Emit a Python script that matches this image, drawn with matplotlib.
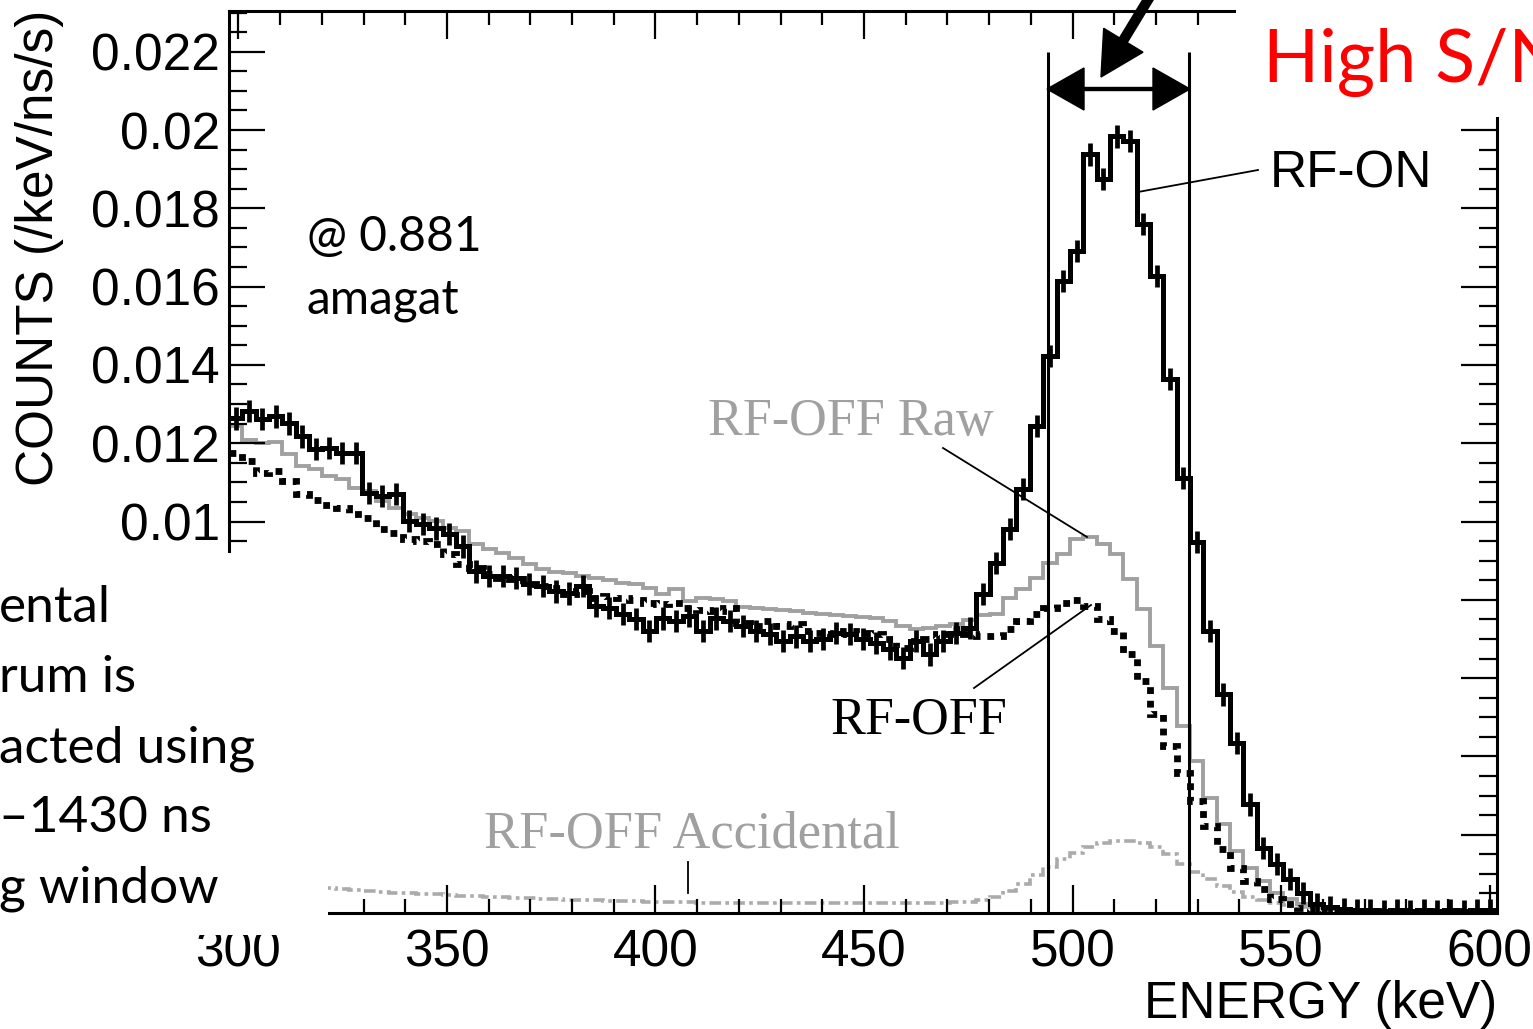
#!/usr/bin/env python3

# Positron annihilation spectrum, RF-ON vs RF-OFF (ROOT style plot)

import matplotlib as mpl
mpl.use("Agg")

import matplotlib.pyplot as plt               # noqa
import matplotlib.transforms as mtransforms   # noqa
from matplotlib.patches import Rectangle, FancyArrow   # noqa
from matplotlib.lines import Line2D           # noqa
from matplotlib.ticker import MultipleLocator, FuncFormatter   # noqa
import numpy as nmp                           # noqa

# binning of the spectra [keV]
E_LOW = 297.75
BIN_W = 3.2
N_BINS = 95

# counts [/keV/ns/s], one value per bin
RF_ON = [0.01264, 0.01282, 0.01262, 0.01269, 0.01251, 0.01218, 0.01185, 0.01188, 0.01175, 0.01175,
         0.01073, 0.01065, 0.01070, 0.01001, 0.00994, 0.00983, 0.00968, 0.00937, 0.00873, 0.00861,
         0.00861, 0.00856, 0.00840, 0.00835, 0.00822, 0.00817, 0.00835, 0.00784, 0.00779, 0.00764,
         0.00751, 0.00720, 0.00753, 0.00746, 0.00759, 0.00720, 0.00753, 0.00746, 0.00733, 0.00720,
         0.00713, 0.00695, 0.00707, 0.00695, 0.00700, 0.00715, 0.00713, 0.00700, 0.00690, 0.00674,
         0.00651, 0.00695, 0.00661, 0.00695, 0.00715, 0.00728, 0.00815, 0.00894, 0.00981, 0.01083,
         0.01244, 0.01423, 0.01614, 0.01691, 0.01938, 0.01875, 0.01984, 0.01972, 0.01760, 0.01627,
         0.01364, 0.01111, 0.00948, 0.00720, 0.00559, 0.00434, 0.00278, 0.00166, 0.00125, 0.00087,
         0.00051, 0.00023, 0.00015, 0.00010, 0.00008, 0.00008, 0.00005, 0.00008, 0.00005, 0.00008,
         0.00005, 0.00008, 0.00005, 0.00008, 0.00008]
ERR_ON = 0.00029

RF_OFF_RAW = [0.01244, 0.01208, 0.01200, 0.01203, 0.01172, 0.01142, 0.01134, 0.01116, 0.01108, 0.01085,
              0.01078, 0.01052, 0.01034, 0.01019, 0.01009, 0.01001, 0.00983, 0.00976, 0.00942, 0.00930,
              0.00919, 0.00907, 0.00891, 0.00879, 0.00871, 0.00868, 0.00861, 0.00856, 0.00850, 0.00843,
              0.00840, 0.00830, 0.00815, 0.00827, 0.00797, 0.00805, 0.00802, 0.00797, 0.00782, 0.00779,
              0.00776, 0.00774, 0.00771, 0.00766, 0.00764, 0.00761, 0.00759, 0.00756, 0.00753, 0.00746,
              0.00733, 0.00725, 0.00728, 0.00733, 0.00738, 0.00748, 0.00761, 0.00764, 0.00805, 0.00827,
              0.00856, 0.00894, 0.00917, 0.00955, 0.00960, 0.00942, 0.00917, 0.00853, 0.00776, 0.00682,
              0.00575, 0.00478, 0.00388, 0.00294, 0.00227, 0.00158, 0.00115, 0.00082, 0.00051, 0.00036,
              0.00023, 0.00015, 0.00010, 0.00008, 0.00005, 0.00005, 0.00005, 0.00005, 0.00005, 0.00005,
              0.00005, 0.00005, 0.00005, 0.00005, 0.00005]

RF_OFF = [0.01175, 0.01154, 0.01124, 0.01129, 0.01103, 0.01070, 0.01055, 0.01042, 0.01034, 0.01019,
          0.01009, 0.00981, 0.00971, 0.00955, 0.00950, 0.00942, 0.00917, 0.00891, 0.00881, 0.00866,
          0.00856, 0.00853, 0.00840, 0.00835, 0.00830, 0.00815, 0.00822, 0.00805, 0.00810, 0.00805,
          0.00799, 0.00792, 0.00789, 0.00792, 0.00779, 0.00774, 0.00771, 0.00779, 0.00741, 0.00733,
          0.00746, 0.00733, 0.00738, 0.00720, 0.00715, 0.00713, 0.00720, 0.00715, 0.00713, 0.00700,
          0.00677, 0.00695, 0.00700, 0.00713, 0.00725, 0.00713, 0.00707, 0.00707, 0.00725, 0.00746,
          0.00764, 0.00779, 0.00792, 0.00799, 0.00784, 0.00751, 0.00720, 0.00661, 0.00593, 0.00508,
          0.00427, 0.00358, 0.00286, 0.00222, 0.00163, 0.00115, 0.00082, 0.00061, 0.00036, 0.00023,
          0.00013, 0.00008, 0.00005, 0.00005, 0.00005, 0.00005, 0.00005, 0.00005, 0.00005, 0.00005,
          0.00005, 0.00005, 0.00005, 0.00005, 0.00005]

RF_OFF_ACC = [0.00077, 0.00074, 0.00072, 0.00069, 0.00069, 0.00066, 0.00066, 0.00064, 0.00061, 0.00059,
              0.00056, 0.00054, 0.00051, 0.00051, 0.00049, 0.00049, 0.00046, 0.00043, 0.00043, 0.00041,
              0.00041, 0.00038, 0.00038, 0.00036, 0.00036, 0.00033, 0.00033, 0.00033, 0.00031, 0.00031,
              0.00031, 0.00028, 0.00028, 0.00028, 0.00028, 0.00026, 0.00026, 0.00026, 0.00026, 0.00026,
              0.00026, 0.00026, 0.00026, 0.00026, 0.00026, 0.00026, 0.00026, 0.00026, 0.00026, 0.00026,
              0.00026, 0.00026, 0.00026, 0.00026, 0.00028, 0.00028, 0.00033, 0.00041, 0.00056, 0.00074,
              0.00097, 0.00117, 0.00138, 0.00153, 0.00169, 0.00179, 0.00184, 0.00184, 0.00179, 0.00169,
              0.00151, 0.00125, 0.00105, 0.00087, 0.00069, 0.00054, 0.00041, 0.00033, 0.00026, 0.00020,
              0.00015, 0.00013, 0.00010, 0.00008, 0.00005, 0.00005, 0.00005, 0.00005, 0.00005, 0.00005,
              0.00005, 0.00005, 0.00005, 0.00005, 0.00005]

WINDOW = [494.0, 528.0]      # keV, the 511 keV window
WINDOW_TOP = 0.0220

SANS = 'Liberation Sans'
SERIF = 'Liberation Serif'
CALI = 'Lato'
GREY = '#a0a0a0'

plt.rcParams['font.family'] = [SANS, 'DejaVu Sans']

W, H = 1533, 1029
fig = plt.figure(figsize=(W / 100., H / 100.), dpi=100)
# image pixel coordinates, y pointing down
px = mtransforms.Affine2D().scale(1, -1).translate(0, H)

ax = fig.add_axes([229. / W, 1 - 913. / H, (1497. - 229.) / W, (913. - 11.) / H])

edges = E_LOW + BIN_W * nmp.arange(N_BINS + 1)
centers = edges[:-1] + BIN_W / 2.
on = nmp.array(RF_ON)

ax.stairs(RF_OFF_ACC, edges, baseline=None, color='#ababab', lw=2.6, linestyle=(0, (3.2, 1.2, 1, 1.2)))
ax.stairs(RF_OFF_RAW, edges, baseline=None, color=GREY, lw=2.8)
ax.stairs(RF_OFF, edges, baseline=None, color='k', lw=4.9, linestyle=(0, (1, 1)))
ax.stairs(RF_ON, edges, baseline=None, color='k', lw=3.6)
ax.vlines(centers, on - ERR_ON, on + ERR_ON, colors='k', lw=3.4)
ax.vlines(WINDOW, 0, WINDOW_TOP, colors='k', lw=2.2)

ax.set_xlim(E_LOW, E_LOW + N_BINS * BIN_W)
ax.set_ylim(0, 0.02304)
ax.xaxis.set_major_locator(MultipleLocator(50))
ax.xaxis.set_minor_locator(MultipleLocator(10))
ax.yaxis.set_major_locator(MultipleLocator(0.002))
ax.yaxis.set_minor_locator(MultipleLocator(0.0005))
ax.xaxis.set_major_formatter(FuncFormatter(lambda v, p: "%d" % round(v)))
# labels below 0.01 sit under the slide's text box
ax.yaxis.set_major_formatter(FuncFormatter(lambda v, p: "%g" % round(v, 4) if v > 0.0099 else ""))
ax.tick_params(axis='both', which='both', direction='in', top=True, right=True,
               labelsize=37, width=1.6, color='k')
ax.tick_params(axis='x', which='major', length=20, pad=11)
ax.tick_params(axis='x', which='minor', length=10)
ax.tick_params(axis='y', which='major', length=26, pad=6.5)
ax.tick_params(axis='y', which='minor', length=13)
for sp in ax.spines.values():
  sp.set_linewidth(2.2)

# white slide boxes lying over the plot
fig.add_artist(Rectangle((0, 553), 328, 382, transform=px, facecolor='white', edgecolor='none', zorder=5))
fig.add_artist(Rectangle((1236, -5), 320, 122, transform=px, facecolor='white', edgecolor='none', zorder=5))

def ptext(x, y, s, **kw):
  kw.setdefault('va', 'baseline')
  kw.setdefault('ha', 'left')
  fig.text(x, y, s, transform=px, zorder=6, **kw)

def pline(x0, y0, x1, y1, lw=1.3):
  fig.add_artist(Line2D([x0, x1], [y0, y1], transform=px, color='k', lw=lw, zorder=6))

# axis titles
ptext(40, 248, "COUNTS (/keV/ns/s)", rotation=90, ha='center', va='center', size=37)
ptext(1497, 1018, "ENERGY (keV)", ha='right', size=37)

# curve labels
ptext(708, 435, "RF-OFF Raw", family=SERIF, size=37.5, color=GREY)
ptext(830, 733, "RF-OFF", family=SERIF, size=37.5, color='k')
ptext(484, 847, "RF-OFF Accidental", family=SERIF, size=37.8, color=GREY)
ptext(1270, 187, "RF-ON", size=37)
pline(943, 448, 1087, 537)
pline(974, 688, 1091, 605)
pline(688, 862, 688, 893)
pline(1258, 170, 1138, 192)

ptext(307, 251, "@ 0.881", family=CALI, size=34.5)
ptext(307, 314, "amagat", family=CALI, size=34.5)

for yb, s in zip([622, 692, 762, 832, 902], ["ental", "rum is", "acted using", "\u20131430 ns", "g window"]):
  ptext(-1, yb, s, family=CALI, size=37)

ptext(1263, 82, "High S/N", family=CALI, size=53, color='#ff0000')

# window arrows
fig.add_artist(FancyArrow(1118.5, 89, -71.5, 0, width=3, head_width=42, head_length=37,
                          length_includes_head=True, color='k', transform=px, zorder=6))
fig.add_artist(FancyArrow(1118.5, 89, 71.5, 0, width=3, head_width=42, head_length=37,
                          length_includes_head=True, color='k', transform=px, zorder=6))
fig.add_artist(FancyArrow(1160, -20, -59, 97, width=9, head_width=46, head_length=43,
                          length_includes_head=True, color='k', transform=px, zorder=6))

plt.savefig('out.png', dpi=100)
